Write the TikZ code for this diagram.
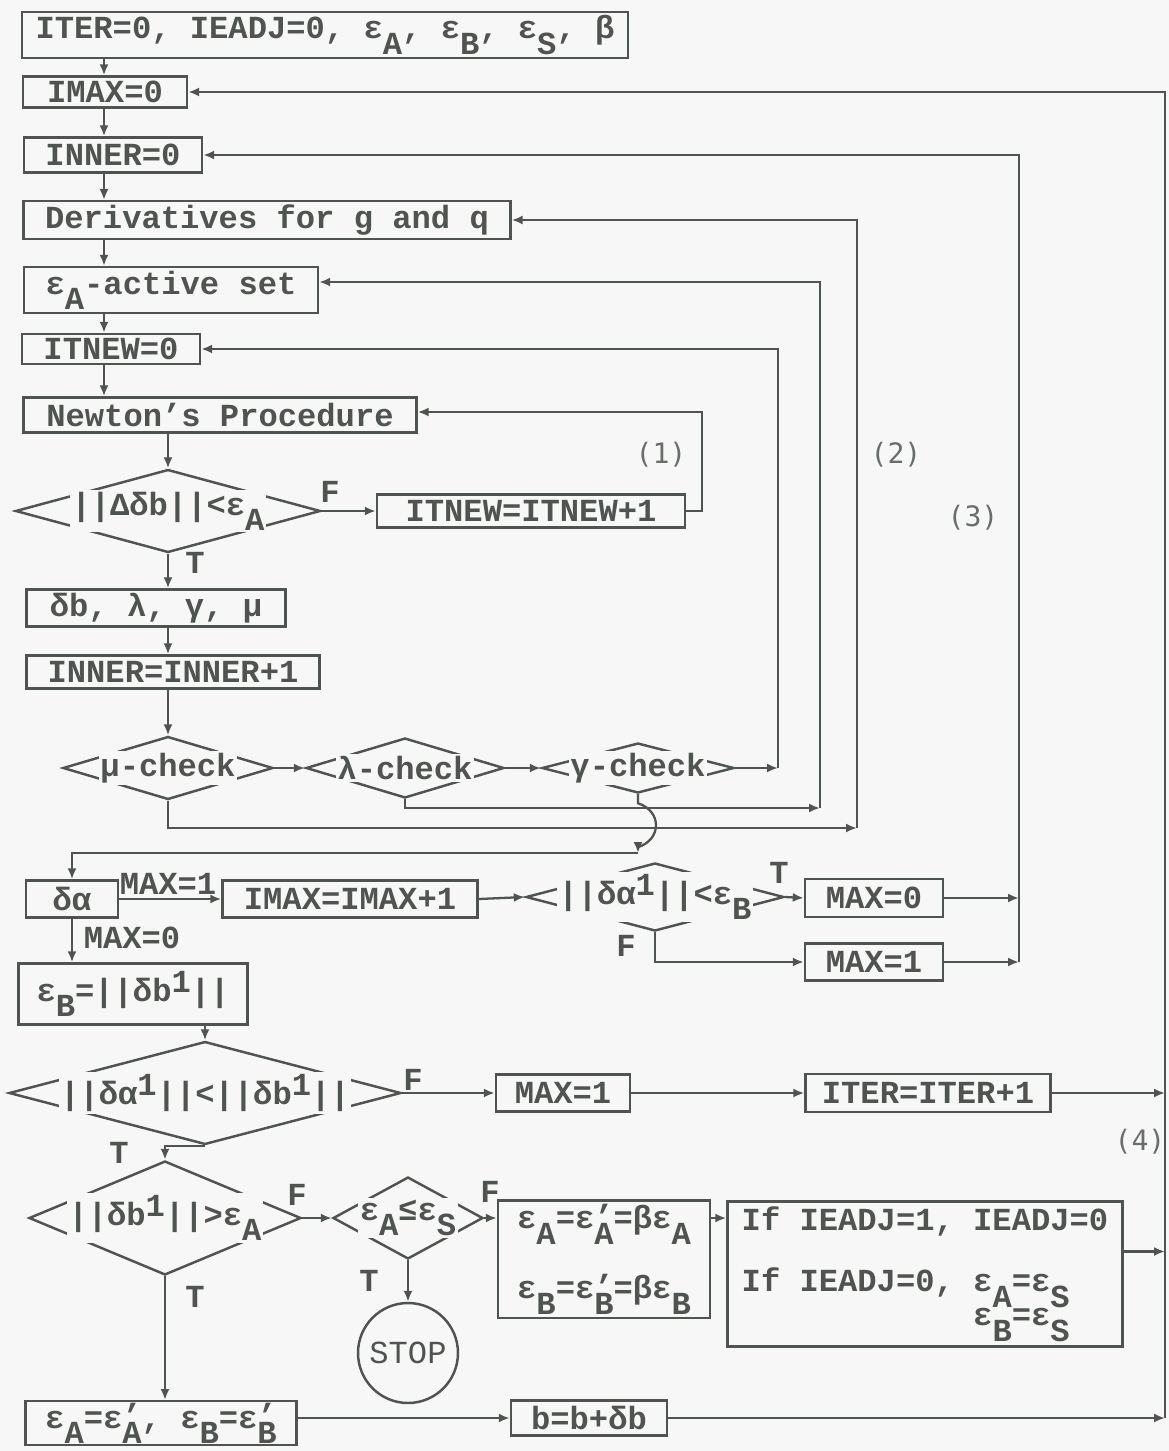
\documentclass[tikz,border=0pt]{standalone}
\usepackage{fontspec}
\setmainfont{Liberation Mono}
\newfontfamily\numfont{DejaVu Sans Mono}
\usetikzlibrary{shapes.geometric,arrows.meta}
\definecolor{paper}{RGB}{246,247,246}
\definecolor{ink}{RGB}{80,84,80}
\newcommand\lo[1]{\raisebox{-0.9ex}{#1}}
\newcommand\hi[1]{\raisebox{0.55ex}{#1}}
\newcommand\pr[1]{\rlap{\raisebox{0.1ex}{\symbol{39}}}\raisebox{-0.9ex}{#1}}
\begin{document}
\begin{tikzpicture}[x=0.02cm,y=-0.02cm,
	>={Latex[length=2.2mm,width=1.8mm]},
	tx/.style={text=ink,font=\fontsize{18.3}{21}\selectfont\bfseries},
	box/.style={draw=ink,line width=1.4pt,inner sep=2pt,tx},
	dia/.style={diamond,draw=ink,line width=1.4pt,inner sep=0pt},
	dtext/.style={fill=paper,inner sep=1pt,tx},
	flow/.style={draw=ink,line width=1.3pt,->},
	loopno/.style={text=ink!85,font=\numfont\fontsize{16}{18}\selectfont}]
	\fill[paper] (0,0) rectangle (1169,1451);
	\useasboundingbox (0,0) rectangle (1169,1451);
	\node[box,minimum width=12.12cm,minimum height=0.9cm] (init) at (325,35) {ITER=0, IEADJ=0, ε\lo{A}, ε\lo{B}, ε\lo{S}, β};
	\node[box,minimum width=3.28cm,minimum height=0.62cm] (imax0) at (105,92) {IMAX=0};
	\node[box,minimum width=3.56cm,minimum height=0.7cm] (inner0) at (113,155) {INNER=0};
	\node[box,minimum width=9.74cm,minimum height=0.68cm] (deriv) at (267,220) {Derivatives for g and q};
	\node[box,minimum width=5.88cm,minimum height=0.92cm] (active) at (171,290) {ε\lo{A}-active set};
	\node[box,minimum width=3.56cm,minimum height=0.6cm] (itnew0) at (111,349) {ITNEW=0};
	\node[box,minimum width=7.86cm,minimum height=0.7cm] (newton) at (220,415) {Newton\symbol{39}s Procedure};
	\node[dia,minimum width=6.1cm,minimum height=1.66cm] (d1) at (168,511) {};
	\node[dtext] (d1t) at (d1.center) {||Δδb||<ε\lo{A}};
	\node[box,minimum width=6.16cm,minimum height=0.66cm] (itnew1) at (531,511) {ITNEW=ITNEW+1};
	\node[box,minimum width=5.18cm,minimum height=0.66cm] (dvars) at (156,608) {δb, λ, γ, μ};
	\node[box,minimum width=5.86cm,minimum height=0.66cm] (inner1) at (173,672) {INNER=INNER+1};
	\node[dia,minimum width=4.2cm,minimum height=1.26cm] (mu) at (168,768) {};
	\node[dtext] (mut) at (mu.center) {μ-check};
	\node[dia,minimum width=3.96cm,minimum height=1.2cm] (lam) at (405,768) {};
	\node[dtext] (lamt) at (lam.center) {λ-check};
	\node[dia,minimum width=3.84cm,minimum height=1.0cm] (gam) at (638,768) {};
	\node[dtext] (gamt) at (gam.center) {γ-check};
	\node[box,minimum width=1.84cm,minimum height=0.74cm] (dalpha) at (72,899) {δα};
	\node[box,minimum width=5.1cm,minimum height=0.74cm] (imax1) at (350,899) {IMAX=IMAX+1};
	\node[dia,minimum width=5.16cm,minimum height=1.36cm] (d2) at (655,897) {};
	\node[dtext] (d2t) at (d2.center) {||δα\hi{1}||<ε\lo{B}};
	\node[box,minimum width=2.76cm,minimum height=0.76cm] (max0) at (874,898) {MAX=0};
	\node[box,minimum width=2.76cm,minimum height=0.74cm] (max1a) at (874,962) {MAX=1};
	\node[box,minimum width=4.58cm,minimum height=1.22cm] (epsb) at (133,994) {ε\lo{B}=||δb\hi{1}||};
	\node[dia,minimum width=7.84cm,minimum height=2.06cm] (d3) at (205,1093) {};
	\node[dtext] (d3t) at (d3.center) {||δα\hi{1}||<||δb\hi{1}||};
	\node[box,minimum width=2.68cm,minimum height=0.74cm] (max1b) at (563,1093) {MAX=1};
	\node[box,minimum width=4.9cm,minimum height=0.76cm] (iter1) at (928,1093) {ITER=ITER+1};
	\node[dia,minimum width=5.44cm,minimum height=2.28cm] (d4) at (165,1218) {};
	\node[dtext] (d4t) at (d4.center) {||δb\hi{1}||>ε\lo{A}};
	\node[dia,minimum width=3.0cm,minimum height=1.64cm] (d5) at (408,1218) {};
	\node[dtext] (d5t) at (d5.center) {ε\lo{A}≤ε\lo{S}};
	\node[circle,draw=ink,line width=1.4pt,minimum size=2cm,inner sep=0pt,text=ink,font=\fontsize{18.3}{21}\selectfont] (stop) at (408,1353) {STOP};
	\node[box,minimum width=4.24cm,minimum height=2.16cm,align=center] (epsred) at (604,1259)
		{ε\lo{A}=ε\pr{A}=βε\lo{A}\\[16pt]ε\lo{B}=ε\pr{B}=βε\lo{B}};
	\node[box,minimum width=7.9cm,minimum height=2.9cm,align=left] (ifbox) at (925,1274)
		{If IEADJ=1, IEADJ=0\\[14pt]If IEADJ=0, ε\lo{A}=ε\lo{S}\\[-4pt]\phantom{If IEADJ=0, }ε\lo{B}=ε\lo{S}};
	\node[box,anchor=north,inner ysep=1pt,minimum width=5.42cm] (epsset) at (161,1400) {ε\lo{A}=ε\pr{A}, ε\lo{B}=ε\pr{B}};
	\node[box,minimum width=3.12cm,minimum height=0.7cm] (bupd) at (589,1418) {b=b+δb};
	\coordinate (sa) at (104,0);
	\coordinate (sb) at (168,0);
	\coordinate (r1) at (702,412);
	\coordinate (r2) at (778,0);
	\coordinate (r3) at (820,808);
	\coordinate (r4) at (857,828);
	\coordinate (r5) at (1019,962);
	\coordinate (r6) at (1165,1418);
	\coordinate (hop) at (638,853);
	\foreach \a/\b in {init/imax0,imax0/inner0,inner0/deriv,deriv/active,active/itnew0,itnew0/newton}
		\draw[flow] (\a.south -| sa) -- (\b.north -| sa);
	\foreach \a/\b in {newton/d1,d1/dvars,dvars/inner1,inner1/mu}
		\draw[flow] (\a.south -| sb) -- (\b.north -| sb);
	\draw[flow] (d1.east) -- (itnew1.west);
	\draw[flow] (itnew1.east) -| (r1) -- (r1 -| newton.east);
	\draw[flow] (mu.east) -- (lam.west);
	\draw[flow] (lam.east) -- (gam.west);
	\draw[flow] (gam.east) -- (gam.east -| r2);
	\draw[flow] (gam.east -| r2) |- (itnew0.east);
	\draw[flow] (lam.south) |- (r3);
	\draw[flow] (r3) |- ([yshift=0.16cm]active.east);
	\draw[flow] (mu.south) |- (r4);
	\draw[flow] (r4) |- (deriv.east);
	\draw[flow] (gam.south) -- ++(0,9) .. controls +(24,8) and +(24,-8) .. ++(0,44) -- (hop);
	\draw[flow] (hop) -| (dalpha.north);
	\draw[flow] (dalpha.east) -- (imax1.west);
	\draw[flow] (imax1.east) -- (d2.west);
	\draw[flow] (d2.east) -- (max0.west);
	\draw[flow] (d2.south) |- (max1a.west);
	\draw[flow] (max0.east) -- (max0.east -| r5);
	\draw[flow] (max1a.east) -- (r5);
	\draw[flow] (r5) |- (inner0.east);
	\draw[flow] (dalpha.south) -- (dalpha.south |- epsb.north);
	\draw[flow] (d3.north |- epsb.south) -- (d3.north);
	\draw[flow] (d3.east) -- (max1b.west);
	\draw[flow] (max1b.east) -- (iter1.west);
	\draw[flow] (iter1.east) -- (iter1.east -| r6);
	\draw[flow] (d3.south) -| (d4.north);
	\draw[flow] (d4.east) -- (d5.west);
	\draw[flow] (d5.east) -- (d5.east -| epsred.west);
	\draw[flow] (d5.south) -- (stop.north);
	\draw[flow] (epsred.east |- d5.east) -- (ifbox.west |- d5.east);
	\draw[flow] ([yshift=0.45cm]ifbox.east) -- ([yshift=0.45cm]ifbox.east -| r6);
	\draw[flow] (d4.south) -- (epsset.north -| d4.south);
	\draw[flow] (epsset.east |- bupd.west) -- (bupd.west);
	\draw[flow] (bupd.east) -- (r6);
	\draw[flow] (r6) |- (imax0.east);
	\node[tx] (f1) at (330,492) {F};
	\node[tx] (t1) at (195,563) {T};
	\node[tx] (t2) at (779,873) {T};
	\node[tx] (f2) at (626,946) {F};
	\node[tx] (f3) at (413,1080) {F};
	\node[tx] (t3) at (119,1153) {T};
	\node[tx] (f4) at (297,1195) {F};
	\node[tx] (t4) at (195,1297) {T};
	\node[tx] (f5) at (490,1192) {F};
	\node[tx] (t5) at (369,1281) {T};
	\node[tx] (m1) at (168,884) {MAX=1};
	\node[tx] (m0) at (132,938) {MAX=0};
	\node[loopno] (n1) at (661,455) {(1)};
	\node[loopno] (n2) at (896,455) {(2)};
	\node[loopno] (n3) at (973,518) {(3)};
	\node[loopno] (n4) at (1140,1142) {(4)};
\end{tikzpicture}
\end{document}
